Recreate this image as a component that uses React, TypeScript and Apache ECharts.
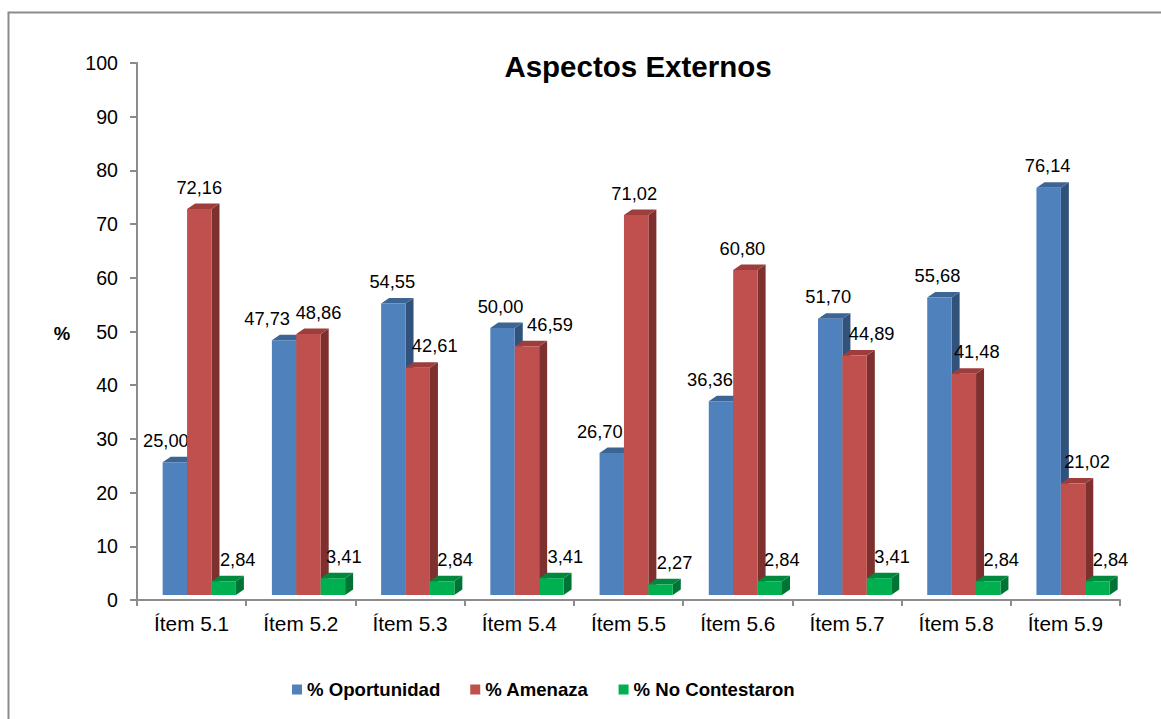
import React, { useEffect, useRef } from "react";
import * as echarts from "echarts";

const categories = ["Ítem 5.1", "Ítem 5.2", "Ítem 5.3", "Ítem 5.4", "Ítem 5.5", "Ítem 5.6", "Ítem 5.7", "Ítem 5.8", "Ítem 5.9"];
const oportunidad = [25.0, 47.73, 54.55, 50.0, 26.7, 36.36, 51.7, 55.68, 76.14];
const amenaza = [72.16, 48.86, 42.61, 46.59, 71.02, 60.8, 44.89, 41.48, 21.02];
const noContestaron = [2.84, 3.41, 2.84, 3.41, 2.27, 2.84, 3.41, 2.84, 2.84];
const seriesNames = ["% Oportunidad", "% Amenaza", "% No Contestaron"];
const title = "Aspectos Externos";
const yAxisName = "%";

// styling: face colours per series [front, top, side]
const faceColors = [
  ["#4F81BD", "#3D6594", "#31527B"],
  ["#C0504D", "#9E3E3C", "#7D302E"],
  ["#00B050", "#00893E", "#007435"],
];
// label horizontal nudges (px) per series/point, mimicking the hand-placed labels
const labelShift = [
  [-9, -17, -1, -2, -12, -11, -2, -2, -1],
  [0, 10, 17, 23, -2, -3, 17, 13, 14],
  [14, 11, 13, 14, 14, 12, 13, 13, 13],
];

const FONT = "'Liberation Sans', Arial, sans-serif";

function fmt(v: number) {
  return v.toFixed(2).replace(".", ",");
}

export default function App() {
  const ref = useRef<HTMLDivElement>(null);
  useEffect(() => {
    if (!ref.current) return;
    const chart = echarts.init(ref.current, null, { renderer: "svg" });
    const allSeries = [oportunidad, amenaza, noContestaron];

    const makeRender = (k: number) => (params: any, api: any) => {
      const ci = api.value(0);
      const v = api.value(1);
      const p0 = api.coord([ci, 0]);
      const p1 = api.coord([ci, v]);
      const bw = api.size([1, 0])[0];
      const barW = bw * 0.2235;
      const x = p0[0] - bw / 2 + bw * 0.235 + k * barW;
      const yb = p0[1] - 5;
      const yt = p1[1] - 3.5;
      const dx = 8;
      const dy = 5.5;
      const [front, top, side] = faceColors[k];
      return {
        type: "group",
        children: [
          {
            type: "polygon",
            shape: { points: [[x + barW, yt], [x + barW + dx, yt - dy], [x + barW + dx, yb - dy], [x + barW, yb]] },
            style: { fill: side },
          },
          {
            type: "polygon",
            shape: { points: [[x, yt], [x + dx, yt - dy], [x + barW + dx, yt - dy], [x + barW, yt]] },
            style: { fill: top },
          },
          {
            type: "rect",
            shape: { x, y: yt, width: barW, height: yb - yt },
            style: { fill: front },
          },
          {
            type: "text",
            z2: 10,
            style: {
              text: fmt(v),
              x: x + barW / 2 + labelShift[k][params.dataIndex],
              y: yt - 22,
              align: "center",
              verticalAlign: "middle",
              fill: "#000",
              fontSize: 18.3,
              fontFamily: FONT,
            },
          },
        ],
      };
    };

    chart.setOption({
      animation: false,
      backgroundColor: "#fff",
      graphic: [
        {
          type: "rect",
          shape: { x: 8.5, y: 12.5, width: 1300, height: 900 },
          style: { fill: "none", stroke: "#8C8C8C", lineWidth: 2 },
          silent: true,
        },
        {
          type: "text",
          x: 638,
          y: 66,
          style: {
            text: title,
            align: "center",
            verticalAlign: "middle",
            fontSize: 29.5,
            fontWeight: "bold",
            fontFamily: FONT,
            fill: "#000",
          },
        },
        {
          type: "text",
          x: 62,
          y: 333,
          style: {
            text: yAxisName,
            align: "center",
            verticalAlign: "middle",
            fontSize: 18.5,
            fontWeight: "bold",
            fontFamily: FONT,
            fill: "#000",
          },
        },
      ],
      legend: {
        left: 287,
        top: 675,
        itemWidth: 10,
        itemHeight: 10,
        itemGap: 30,
        icon: "rect",
        data: seriesNames,
        textStyle: { fontSize: 18.6, fontWeight: "bold", fontFamily: FONT, color: "#000" },
      },
      grid: { left: 137, top: 63, width: 983, height: 537 },
      xAxis: {
        type: "category",
        data: categories,
        boundaryGap: true,
        axisLine: { lineStyle: { color: "#8C8C8C", width: 2 } },
        axisTick: { show: true, length: 6, lineStyle: { color: "#8C8C8C", width: 2 } },
        axisLabel: { fontSize: 20.8, fontFamily: FONT, color: "#000", margin: 13 },
      },
      yAxis: {
        type: "value",
        min: 0,
        max: 100,
        interval: 10,
        splitLine: { show: false },
        axisLine: { show: true, lineStyle: { color: "#8C8C8C", width: 2 } },
        axisTick: { show: true, length: 7, lineStyle: { color: "#8C8C8C", width: 2 } },
        axisLabel: { fontSize: 19.6, fontFamily: FONT, color: "#000", margin: 19 },
      },
      series: allSeries.map((vals, k) => ({
        type: "custom",
        name: seriesNames[k],
        itemStyle: { color: faceColors[k][0] },
        renderItem: makeRender(k),
        encode: { x: 0, y: 1 },
        data: vals.map((v, i) => [i, v]),
        z: 2 + k,
      })),
    });
    return () => chart.dispose();
  }, []);
  return <div ref={ref} style={{ position: "fixed", left: 0, top: 0, width: 1161, height: 719 }} />;
}
